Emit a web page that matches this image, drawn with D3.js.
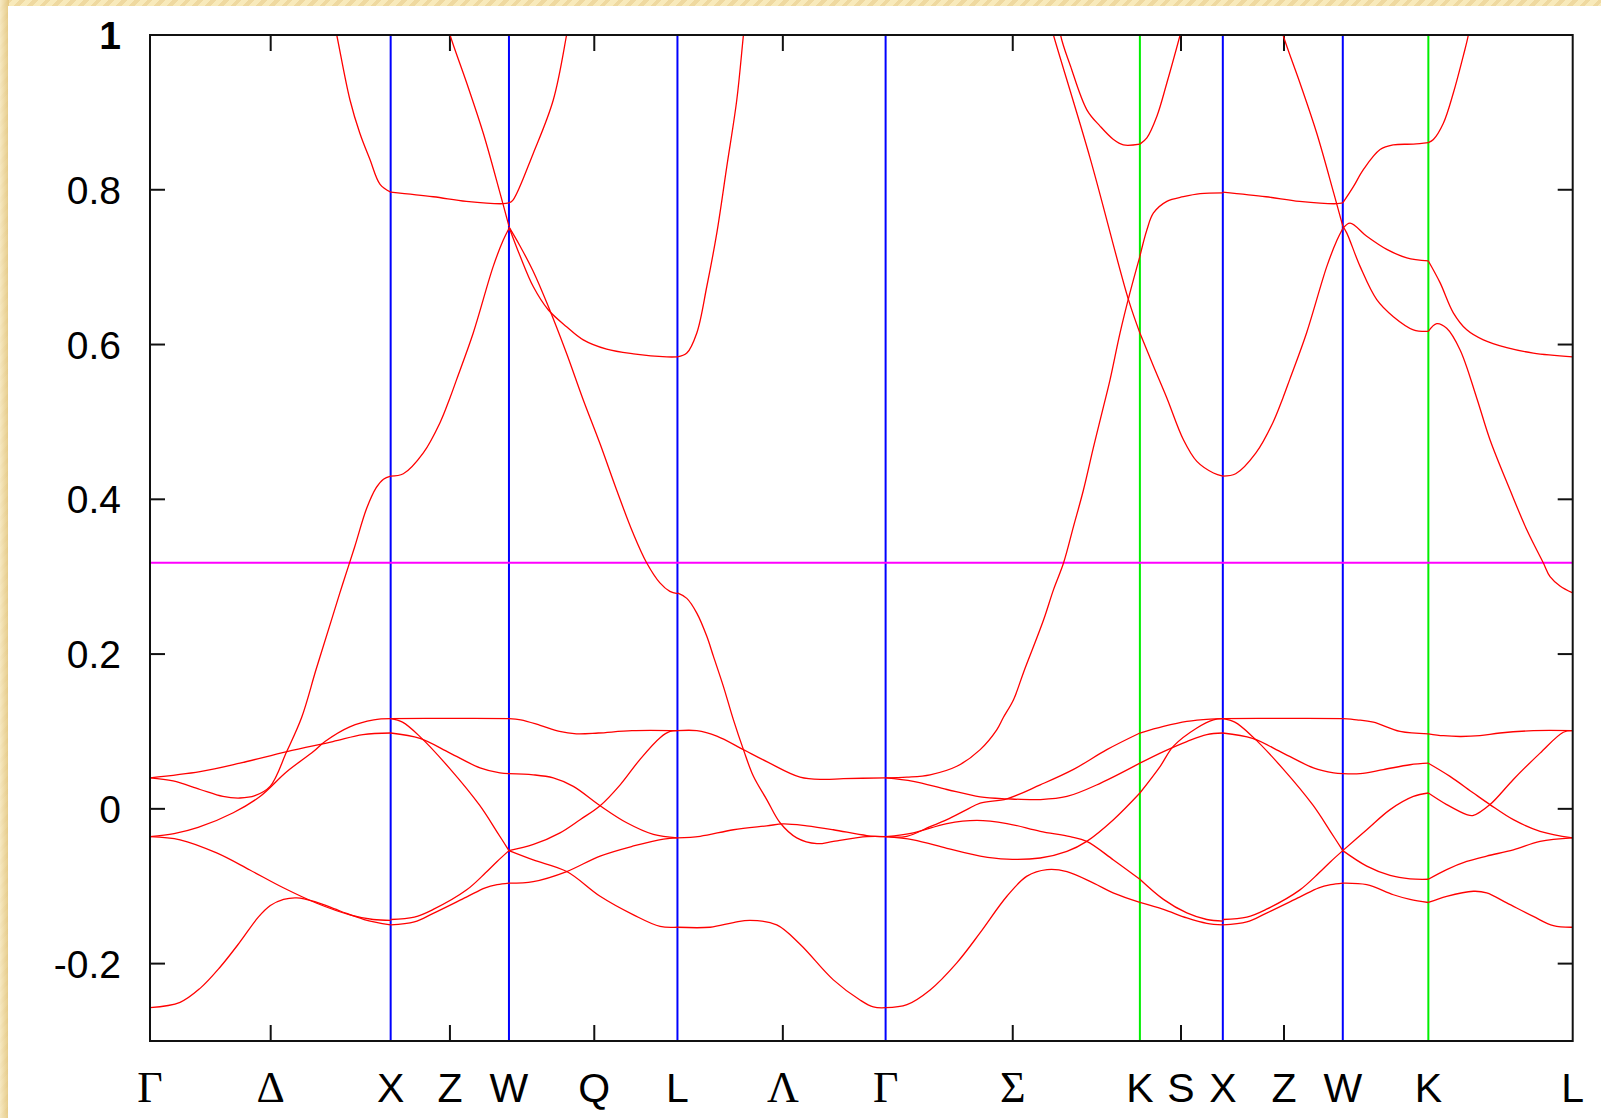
<!DOCTYPE html>
<html><head><meta charset="utf-8">
<script src="https://cdn.jsdelivr.net/npm/d3@7"></script>
<style>
html,body{margin:0;padding:0;}
body{width:1601px;height:1118px;overflow:hidden;
 background:repeating-linear-gradient(135deg,#f8eabb 0px,#f8eabb 5px,#efd9a0 5px,#efd9a0 9px);}
svg{position:absolute;left:0;top:0;}
</style></head><body>
<svg id="chart" width="1601" height="1118"></svg>
<script>
// ---- symmetry points along the k-path (path length units) ----
const symPoints = [
  {label:"Γ", k:0.000, line:null},
  {label:"X", k:1.007, line:"blue"},
  {label:"W", k:1.502, line:"blue"},
  {label:"L", k:2.207, line:"blue"},
  {label:"Γ", k:3.078, line:"blue"},
  {label:"K", k:4.142, line:"green"},
  {label:"X", k:4.489, line:"blue"},
  {label:"W", k:4.991, line:"blue"},
  {label:"K", k:5.349, line:"green"},
  {label:"L", k:5.953, line:null}
];
const midLabels = [
  {label:"Δ", k:0.505}, {label:"Z", k:1.255}, {label:"Q", k:1.859},
  {label:"Λ", k:2.648}, {label:"Σ", k:3.610}, {label:"S", k:4.314}, {label:"Z", k:4.745}
];
const yTicks = [-0.2, 0, 0.2, 0.4, 0.6, 0.8, 1];
const yTickLabels = ["-0.2", "0", "0.2", "0.4", "0.6", "0.8", "1"];
const fermiLevel = 0.318;

// ---- bands per segment: [fraction along segment, energy] ----
const bandsGX = [
  [[0,-0.257],[.125,-0.250],[.208,-0.232],[.29,-0.205],[.374,-0.172],[.45,-0.140],[.5,-0.125],[.555,-0.117],[.61,-0.115],[.685,-0.120],[.79,-0.132],[.89,-0.143],[1,-0.150]],
  [[0,-0.036],[.125,-0.040],[.277,-0.057],[.415,-0.079],[.554,-0.102],[.693,-0.122],[.831,-0.137],[.927,-0.143],[1,-0.144]],
  [[0,-0.036],[.1,-0.032],[.2,-0.024],[.346,-0.005],[.457,0.016],[.568,0.048],[.679,0.074],[.727,0.087],[.83,0.106],[.93,0.115],[1,0.1165]],
  [[0,0.040],[.208,0.048],[.374,0.059],[.569,0.074],[.76,0.087],[.885,0.096],[1,0.098]],
  [[0,0.040],[.096,0.036],[.208,0.025],[.303,0.016],[.374,0.014],[.436,0.017],[.499,0.029],[.568,0.074],[.63,0.118],[.69,0.18],[.75,0.24],[.80,0.29],[.85,0.338],[.9,0.388],[.94,0.415],[.97,0.426],[1,0.430]],
  [[.74,1.055],[.776,1.0],[.831,0.916],[.872,0.873],[.914,0.839],[.956,0.807],[1,0.797]]
];
const bandsXW = [
  [[0,0.1165],[.5,0.117],[1,0.1165]],
  [[0,0.098],[.248,0.091],[.502,0.072],[.755,0.053],[.924,0.0465],[1,0.0455]],
  [[0,0.1165],[.1,0.112],[.25,0.093],[.5,0.052],[.75,0.005],[.9,-0.03],[1,-0.054]],
  [[0,-0.143],[.2,-0.140],[.36,-0.130],[.64,-0.105],[.8,-0.083],[.9,-0.068],[1,-0.054]],
  [[0,-0.150],[.2,-0.146],[.36,-0.135],[.64,-0.114],[.8,-0.102],[.9,-0.098],[1,-0.096]],
  [[0,0.430],[.107,0.433],[.276,0.46],[.417,0.499],[.501,0.531],[.558,0.555],[.698,0.615],[.867,0.701],[.952,0.735],[1,0.750]],
  [[0,0.797],[.36,0.791],[.64,0.785],[.95,0.782],[1,0.783]],
  [[.45,1.03],[.502,1.0],[.643,0.938],[.783,0.873],[.924,0.796],[1,0.753]]
];
const bandsWL = [
  [[0,0.1165],[.07,0.115],[.185,0.108],[.3,0.100],[.4,0.097],[.53,0.098],[.73,0.101],[1,0.101]],
  [[0,0.0455],[.144,0.044],[.263,0.040],[.382,0.029],[.541,0.004],[.699,-0.018],[.857,-0.033],[1,-0.0375]],
  [[0,-0.054],[.145,-0.046],[.303,-0.031],[.422,-0.014],[.541,0.004],[.66,0.031],[.778,0.064],[.897,0.092],[.956,0.100],[1,0.101]],
  [[0,-0.054],[.144,-0.066],[.343,-0.081],[.541,-0.113],[.739,-0.137],[.897,-0.152],[1,-0.153]],
  [[0,-0.096],[.144,-0.094],[.343,-0.081],[.541,-0.061],[.739,-0.048],[.917,-0.039],[1,-0.0375]],
  [[0,0.752],[.064,0.728],[.143,0.695],[.232,0.650],[.341,0.589],[.44,0.529],[.54,0.472],[.639,0.412],[.737,0.356],[.817,0.318],[.896,0.292],[.955,0.281],[1,0.278]],
  [[0,0.752],[.065,0.715],[.144,0.675],[.233,0.645],[.342,0.623],[.441,0.606],[.58,0.594],[.739,0.588],[.937,0.584],[1,0.584]],
  [[0,0.783],[.025,0.787],[.144,0.847],[.263,0.916],[.342,1.0],[.38,1.05]]
];
const bandsLG = [
  [[0,0.101],[.093,0.101],[.189,0.094],[.317,0.0765],[.429,0.061],[.589,0.041],[.701,0.038],[.797,0.039],[1,0.040]],
  [[0,0.279],[.045,0.272],[.093,0.253],[.141,0.223],[.173,0.197],[.221,0.158],[.269,0.115],[.317,0.0765],[.365,0.042],[.429,0.012],[.493,-0.018],[.573,-0.0375],[.67,-0.045],[.749,-0.042],[.91,-0.036],[1,-0.036]],
  [[0,-0.0375],[.109,-0.0355],[.269,-0.027],[.429,-0.022],[.509,-0.0195],[.621,-0.022],[.749,-0.027],[.91,-0.0345],[1,-0.036]],
  [[0,-0.153],[.157,-0.153],[.269,-0.147],[.349,-0.144],[.477,-0.150],[.589,-0.175],[.749,-0.221],[.877,-0.247],[.941,-0.256],[1,-0.257]],
  [[0,0.584],[.045,0.589],[.093,0.615],[.141,0.675],[.189,0.744],[.237,0.830],[.285,0.916],[.317,1.0],[.34,1.06]]
];
const bandsGK = [
  [[0,-0.257],[.084,-0.253],[.175,-0.234],[.28,-0.199],[.372,-0.160],[.477,-0.113],[.556,-0.087],[.635,-0.0785],[.713,-0.081],[.818,-0.096],[.897,-0.109],[1,-0.121]],
  [[0,0.040],[.109,0.0355],[.241,0.025],[.372,0.0155],[.477,0.013],[.608,0.012],[.713,0.016],[.844,0.033],[1,0.059]],
  [[0,-0.036],[.083,-0.0355],[.175,-0.023],[.241,-0.014],[.319,-0.001],[.372,0.0075],[.477,0.013],[.608,0.031],[.739,0.051],[.87,0.0765],[1,0.098]],
  [[0,-0.036],[.109,-0.031],[.241,-0.019],[.359,-0.015],[.477,-0.019],[.608,-0.029],[.726,-0.036],[.791,-0.042],[.896,-0.066],[1,-0.091]],
  [[0,-0.036],[.109,-0.040],[.241,-0.051],[.372,-0.061],[.477,-0.065],[.608,-0.0635],[.713,-0.055],[.791,-0.042],[.896,-0.014],[1,0.0205]],
  [[0,0.040],[.084,0.041],[.175,0.044],[.28,0.055],[.372,0.0765],[.437,0.102],[.463,0.118],[.503,0.141],[.542,0.176],[.621,0.244],[.66,0.283],[.7,0.318],[.739,0.365],[.778,0.412],[.818,0.468],[.857,0.520],[.883,0.555],[.922,0.615],[.961,0.667],[1,0.714]],
  [[.64,1.024],[.66,1.0],[.805,0.84],[.955,0.658],[1,0.615]],
  [[.665,1.06],[.688,1.0],[.727,0.96],[.792,0.903],[.844,0.882],[.896,0.865],[.935,0.858],[1,0.859]]
];
const bandsKX = [
  [[0,0.098],[.284,0.1065],[.566,0.113],[.847,0.116],[1,0.1165]],
  [[0,0.059],[.284,0.074],[.566,0.087],[.807,0.096],[1,0.098]],
  [[0,0.0205],[.245,0.055],[.405,0.081],[.687,0.1045],[.887,0.115],[1,0.1165]],
  [[0,-0.091],[.284,-0.117],[.566,-0.1345],[.807,-0.143],[1,-0.145]],
  [[0,-0.121],[.284,-0.130],[.566,-0.141],[.807,-0.148],[1,-0.150]],
  [[0,0.714],[.084,0.748],[.164,0.770],[.325,0.785],[.525,0.791],[.727,0.795],[1,0.796]],
  [[0,0.615],[.164,0.572],[.325,0.531],[.525,0.477],[.687,0.449],[.887,0.434],[1,0.430]],
  [[0,0.859],[.084,0.867],[.205,0.895],[.325,0.938],[.485,1.0],[.558,1.03]]
];
const bandsWK = [
  [[0,0.1165],[.164,0.115],[.357,0.112],[.669,0.100],[1,0.097]],
  [[0,0.0455],[.202,0.0455],[.474,0.0507],[.786,0.057],[1,0.059]],
  [[0,-0.054],[.28,-0.027],[.553,-0.001],[.825,0.016],[1,0.0205]],
  [[0,-0.054],[.28,-0.074],[.553,-0.086],[.786,-0.0905],[1,-0.091]],
  [[0,-0.096],[.28,-0.098],[.591,-0.111],[.786,-0.117],[1,-0.121]],
  [[0,0.783],[.124,0.804],[.24,0.826],[.436,0.852],[.591,0.858],[.825,0.859],[1,0.861]],
  [[0,0.750],[.085,0.757],[.28,0.740],[.514,0.723],[.748,0.712],[1,0.708]],
  [[0,0.753],[.047,0.744],[.202,0.701],[.397,0.658],[.591,0.636],[.825,0.619],[1,0.617]]
];
const bandsKL = [
  [[0,0.097],[.104,0.0945],[.22,0.0935],[.357,0.0945],[.496,0.098],[.727,0.101],[1,0.101]],
  [[0,0.059],[.15,0.042],[.312,0.0205],[.427,0.0055],[.589,-0.014],[.774,-0.029],[1,-0.0375]],
  [[0,0.0205],[.127,0.0055],[.266,-0.0075],[.312,-0.0085],[.427,0.0055],[.589,0.038],[.774,0.072],[.935,0.099],[1,0.101]],
  [[0,-0.091],[.127,-0.0785],[.266,-0.068],[.404,-0.061],[.589,-0.053],[.774,-0.042],[1,-0.0375]],
  [[0,-0.121],[.127,-0.113],[.312,-0.1065],[.404,-0.1085],[.543,-0.1215],[.727,-0.139],[.866,-0.151],[1,-0.153]],
  [[0,0.861],[.035,0.865],[.104,0.886],[.173,0.925],[.242,0.973],[.277,1.0],[.3,1.03]],
  [[0,0.708],[.081,0.680],[.173,0.641],[.266,0.619],[.381,0.606],[.543,0.596],[.727,0.589],[1,0.584]],
  [[0,0.617],[.058,0.627],[.127,0.621],[.22,0.593],[.335,0.531],[.427,0.477],[.566,0.412],[.681,0.361],[.796,0.318],[.843,0.30],[.912,0.288],[1,0.279]]
];
const pathSegments = [
  {from:0, to:1, bands:bandsGX},
  {from:1, to:2, bands:bandsXW},
  {from:2, to:3, bands:bandsWL},
  {from:3, to:4, bands:bandsLG},
  {from:4, to:5, bands:bandsGK},
  {from:5, to:6, bands:bandsKX},
  {from:6, to:7, bands:bandsXW},
  {from:7, to:8, bands:bandsWK},
  {from:8, to:9, bands:bandsKL}
];

// ---- drawing ----
const svg = d3.select("#chart");
const L = 150, R = 1572.7, T = 35, B = 1041;
const defs = svg.append("defs");
const grad = defs.append("linearGradient").attr("id","leftstrip").attr("x1","0").attr("x2","1").attr("y1","0").attr("y2","0");
grad.append("stop").attr("offset","0%").attr("stop-color","#f6e9c4");
grad.append("stop").attr("offset","100%").attr("stop-color","#e2c47c");
svg.append("rect").attr("x",0).attr("y",0).attr("width",9).attr("height",1118).attr("fill","url(#leftstrip)").attr("opacity",0.85);
svg.append("rect").attr("x",8).attr("y",6).attr("width",1593).attr("height",1112).attr("fill","#ffffff");

const x = d3.scaleLinear().domain([0, symPoints[symPoints.length-1].k]).range([L, R]);
const y = d3.scaleLinear().domain([-0.3, 1]).range([B, T]);

defs.append("clipPath").attr("id","plotclip")
  .append("rect").attr("x",L).attr("y",T).attr("width",R-L).attr("height",B-T);

const greekSet = new Set(["Γ","Δ","Λ","Σ"]);
const colorMap = {blue:"#0000ff", green:"#00ee00"};

// ticks (bottom/top) at mid labels, left/right at y ticks
const tickG = svg.append("g").attr("stroke","#111").attr("stroke-width",2);
midLabels.forEach(m => {
  const xx = x(m.k);
  tickG.append("line").attr("x1",xx).attr("x2",xx).attr("y1",B).attr("y2",B-16);
  tickG.append("line").attr("x1",xx).attr("x2",xx).attr("y1",T).attr("y2",T+16);
});
yTicks.forEach(v => {
  const yy = y(v);
  tickG.append("line").attr("x1",L).attr("x2",L+15).attr("y1",yy).attr("y2",yy);
  tickG.append("line").attr("x1",R).attr("x2",R-15).attr("y1",yy).attr("y2",yy);
});

// vertical symmetry lines
svg.append("g").selectAll("line").data(symPoints.filter(p => p.line)).enter().append("line")
  .attr("x1", d => x(d.k)).attr("x2", d => x(d.k)).attr("y1", T).attr("y2", B)
  .attr("stroke", d => colorMap[d.line]).attr("stroke-width", 2);

// Fermi level
svg.append("line").attr("x1",L).attr("x2",R).attr("y1",y(fermiLevel)).attr("y2",y(fermiLevel))
  .attr("stroke","#ff00ff").attr("stroke-width",2);

// bands
const bandG = svg.append("g").attr("clip-path","url(#plotclip)");
pathSegments.forEach(seg => {
  const fx = d3.scaleLinear().domain([0,1]).range([x(symPoints[seg.from].k), x(symPoints[seg.to].k)]);
  const line = d3.line().x(d => fx(d[0])).y(d => y(d[1])).curve(d3.curveCatmullRom.alpha(0.5));
  bandG.selectAll(null).data(seg.bands).enter().append("path")
    .attr("d", line).attr("fill","none").attr("stroke","#ff0000").attr("stroke-width",1.3);
});

// frame
svg.append("rect").attr("x",L).attr("y",T).attr("width",R-L).attr("height",B-T)
  .attr("fill","none").attr("stroke","#111").attr("stroke-width",2);

// y labels
svg.append("g").selectAll("text").data(yTicks).enter().append("text")
  .attr("x",121).attr("y", d => y(d) + 14)
  .attr("text-anchor","end")
  .attr("font-family","'Liberation Sans', Arial, sans-serif")
  .attr("font-size",39)
  .attr("font-weight",(d,i) => yTickLabels[i] === "1" ? "bold" : "normal")
  .attr("fill","#000")
  .text((d,i) => yTickLabels[i]);

// x labels
const allLabels = symPoints.map(p => ({label:p.label, k:p.k})).concat(midLabels);
svg.append("g").selectAll("text").data(allLabels).enter().append("text")
  .attr("x", d => x(d.k)).attr("y", 1102)
  .attr("text-anchor","middle")
  .attr("font-family", d => greekSet.has(d.label) ? "'Liberation Serif', 'Times New Roman', serif" : "'Liberation Sans', Arial, sans-serif")
  .attr("font-size", d => greekSet.has(d.label) ? 44 : 41)
  .attr("fill","#000")
  .text(d => d.label);
</script></body></html>
